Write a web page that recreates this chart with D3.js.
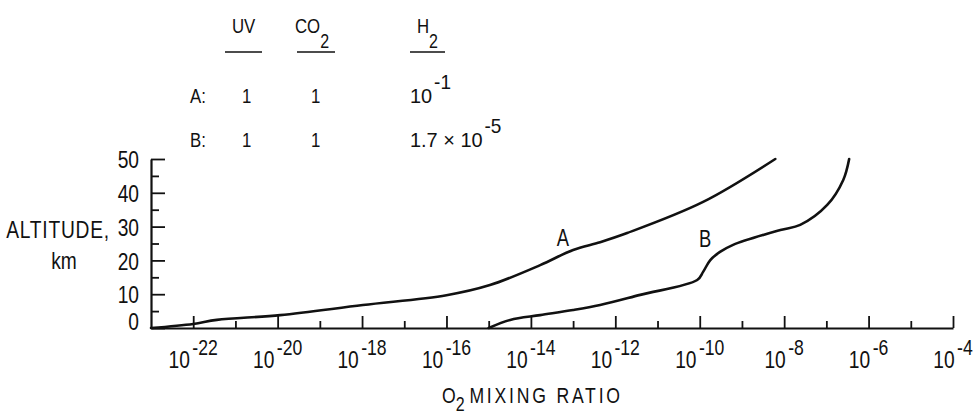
<!DOCTYPE html>
<html lang='en'>
<head>
  <meta charset='utf-8'>
  <script src="https://d3js.org/d3.v7.min.js"></script>
  <style>
    body { margin: 0; background: #fff; }
    svg text { font-family: "Liberation Sans", Arial, sans-serif; fill: #111; }
  </style>
</head>
<body>
<div id="chart"></div>
<script>
// curve data: x is log10 of O2 mixing ratio, y is altitude in km
const curveA_exp = [-23, -22.0, -21.44, -19.94, -17.98, -16.0, -14.97, -13.78, -13.0, -12.36, -11.72, -9.92, -8.21];
const curveA_alt = [0, 1.2, 2.4, 3.8, 6.8, 9.7, 12.7, 18.6, 23.1, 25.4, 28.1, 37.3, 50];

const curveB_exp = [-15.0, -14.49, -13.78, -13.0, -12.36, -11.41, -10.06, -9.92, -9.75, -9.52, -9.21, -8.09, -7.62, -6.98, -6.6, -6.46];
const curveB_alt = [0, 2.4, 3.8, 5.3, 6.8, 9.8, 14.2, 16.6, 20.1, 22.5, 24.6, 29.0, 30.5, 36.4, 43.8, 50];

// curve labels (exp, alt)
const curveNames = ["A", "B"];
const labelExp = [-13.24, -9.87];
const labelAlt = [24.3, 24.0];

// axis ticks
const xMajor = [-22, -20, -18, -16, -14, -12, -10, -8, -6, -4];
const xMinor = [-21, -19, -17, -15, -13, -11, -9, -7, -5];
const yMajor = [0, 10, 20, 30, 40, 50];
const yMinor = [5, 15, 25, 35, 45];

// legend table
const legendRows = ["A:", "B:"];
const legendUV = ["1", "1"];
const legendCO2 = ["1", "1"];
const legendH2base = ["10", "1.7 \u00d7 10"];
const legendH2sup = ["-1", "-5"];

const W = 973, H = 415;
const K = 0.8; // horizontal squeeze, the original lettering is condensed

const svg = d3.select("#chart").append("svg")
  .attr("width", W).attr("height", H);

// squeeze a text horizontally while keeping its anchor point
function narrow(t, k = K) {
  const x0 = +t.attr("x") || 0;
  t.attr("x", x0 / k).attr("transform", `scale(${k},1)`);
  return t;
}

const x = d3.scaleLog().domain([1e-23, 1e-4]).range([151, 953]);
const y = d3.scaleLinear().domain([0, 50]).range([328, 159]);

// x axis
const xAxis = svg.append("g")
  .attr("transform", `translate(0, ${y(0)})`)
  .call(d3.axisBottom(x)
    .tickValues(xMajor.concat(xMinor).map(e => Math.pow(10, e)))
    .tickSizeInner(-12).tickSizeOuter(0).tickFormat(""));
xAxis.select(".domain").attr("stroke", "#111").attr("stroke-width", 2.2);
xAxis.selectAll(".tick line").attr("stroke", "#111").attr("stroke-width", 1.8)
  .attr("y2", d => xMinor.includes(Math.round(Math.log10(d))) ? -7 : -12);

// x tick labels 10^n
xMajor.forEach(e => {
  const t = svg.append("text")
    .attr("x", x(Math.pow(10, e)))
    .attr("y", 368)
    .attr("text-anchor", "middle")
    .style("font-size", "24px");
  t.append("tspan").text("10");
  t.append("tspan").attr("dy", -13).attr("dx", 3).style("font-size", "22px").text("-" + Math.abs(e));
  narrow(t);
});

// y axis
const yAxis = svg.append("g")
  .attr("transform", `translate(${x(1e-23)}, 0)`)
  .call(d3.axisLeft(y)
    .tickValues(yMajor.concat(yMinor))
    .tickSizeInner(-14).tickSizeOuter(0).tickPadding(12)
    .tickFormat(d => d % 10 === 0 ? d : ""));
yAxis.select(".domain").attr("stroke", "#111").attr("stroke-width", 2.2);
yAxis.selectAll(".tick line").attr("stroke", "#111").attr("stroke-width", 1.8)
  .attr("x2", d => d % 10 === 0 ? 14 : 8);
yAxis.selectAll(".tick text")
  .style("font-size", "24px").attr("fill", "#111")
  .style("font-family", "'Liberation Sans', Arial, sans-serif")
  .attr("dy", d => d === 0 ? "0.08em" : "0.36em")
  .each(function() { narrow(d3.select(this)); });

// axis titles
narrow(svg.append("text").attr("x", 110).attr("y", 238).attr("text-anchor", "end")
  .style("font-size", "24px").style("letter-spacing", "1px").text("ALTITUDE,"));
narrow(svg.append("text").attr("x", 64).attr("y", 269).attr("text-anchor", "middle")
  .style("font-size", "24px").text("km"));

const xt = svg.append("text").attr("x", 442).attr("y", 403).style("font-size", "22px");
xt.append("tspan").text("O");
xt.append("tspan").attr("dy", 8).style("font-size", "20px").text("2");
xt.append("tspan").attr("dy", -8).attr("dx", 6).style("letter-spacing", "3.5px").text("MIXING RATIO");
narrow(xt);

// curves
const line = d3.line()
  .x(d => x(Math.pow(10, d[0])))
  .y(d => y(d[1]))
  .curve(d3.curveCatmullRom.alpha(0.5));

[[curveA_exp, curveA_alt], [curveB_exp, curveB_alt]].forEach(([ex, al]) => {
  svg.append("path")
    .datum(d3.zip(ex, al))
    .attr("d", line)
    .attr("fill", "none")
    .attr("stroke", "#111")
    .attr("stroke-width", 2.6)
    .attr("stroke-linecap", "round");
});

curveNames.forEach((n, i) => {
  narrow(svg.append("text")
    .attr("x", x(Math.pow(10, labelExp[i])))
    .attr("y", y(labelAlt[i]))
    .attr("text-anchor", "middle")
    .style("font-size", "23px")
    .text(n));
});

// legend table
const hdr = svg.append("g").style("font-size", "21px");
narrow(hdr.append("text").attr("x", 232).attr("y", 33).text("UV"));
const co = hdr.append("text").attr("x", 295).attr("y", 33);
co.append("tspan").text("CO");
co.append("tspan").attr("dy", 15).style("font-size", "20px").text("2");
narrow(co);
const h2 = hdr.append("text").attr("x", 417).attr("y", 33);
h2.append("tspan").text("H");
h2.append("tspan").attr("dy", 15).style("font-size", "20px").text("2");
narrow(h2);
[[225, 262], [297, 335], [410, 445]].forEach(([a, b]) => {
  hdr.append("line").attr("x1", a).attr("x2", b).attr("y1", 52).attr("y2", 52)
    .attr("stroke", "#111").attr("stroke-width", 1.6);
});

const rowY = [103, 147];
legendRows.forEach((r, i) => {
  narrow(hdr.append("text").attr("x", 190).attr("y", rowY[i]).text(r));
  narrow(hdr.append("text").attr("x", 242).attr("y", rowY[i]).text(legendUV[i]));
  narrow(hdr.append("text").attr("x", 311).attr("y", rowY[i]).text(legendCO2[i]));
  const t = hdr.append("text").attr("x", 410).attr("y", rowY[i]);
  t.append("tspan").text(legendH2base[i]);
  t.append("tspan").attr("dy", -14).attr("dx", 2).style("font-size", "20px").text(legendH2sup[i]);
  narrow(t, 0.95);
});
</script>
</body>
</html>
